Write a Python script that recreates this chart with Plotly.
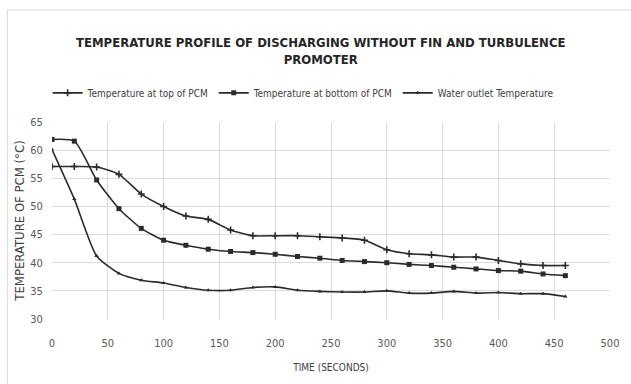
import plotly.graph_objects as go

time_s = [0, 20, 40, 60, 80, 100, 120, 140, 160, 180, 200, 220,
          240, 260, 280, 300, 320, 340, 360, 380, 400, 420, 440, 460]

temp_top = [57.1, 57.1, 57.0, 55.7, 52.2, 50.0, 48.3, 47.7, 45.8, 44.8, 44.8, 44.8,
            44.6, 44.4, 44.0, 42.3, 41.6, 41.4, 41.0, 41.0, 40.4, 39.8, 39.5, 39.5]

temp_bottom = [61.9, 61.6, 54.7, 49.6, 46.1, 44.0, 43.1, 42.4, 42.0, 41.8, 41.5, 41.1,
               40.8, 40.4, 40.2, 40.0, 39.7, 39.5, 39.2, 38.9, 38.6, 38.5, 38.0, 37.7]

temp_water = [60.1, 51.3, 41.2, 38.1, 36.9, 36.4, 35.6, 35.1, 35.1, 35.6, 35.7, 35.1,
              34.9, 34.8, 34.8, 35.0, 34.6, 34.6, 34.9, 34.6, 34.7, 34.5, 34.5, 34.0]

series_names = ["Temperature at top of PCM", "Temperature at bottom of PCM",
                "Water outlet Temperature"]

title_text = "TEMPERATURE PROFILE OF DISCHARGING WITHOUT FIN AND TURBULENCE<br>PROMOTER"
x_title = "TIME (SECONDS)"
y_title = "TEMPERATURE OF PCM (°C)"

FONT = "DejaVu Sans Condensed, Liberation Sans Narrow, Roboto, sans-serif"
LINE = "#2b2b2b"

fig = go.Figure()
fig.add_trace(go.Scatter(
    x=time_s, y=temp_top, name=series_names[0], mode="lines+markers",
    line=dict(color=LINE, width=1.6, shape="spline", smoothing=0.6),
    marker=dict(symbol="cross-thin", size=5, color=LINE, line=dict(color=LINE, width=1.6)),
))
fig.add_trace(go.Scatter(
    x=time_s, y=temp_bottom, name=series_names[1], mode="lines+markers",
    line=dict(color=LINE, width=1.6, shape="spline", smoothing=0.6),
    marker=dict(symbol="square", size=5, color=LINE),
))
fig.add_trace(go.Scatter(
    x=time_s, y=temp_water, name=series_names[2], mode="lines+markers",
    line=dict(color=LINE, width=1.6, shape="spline", smoothing=0.6),
    marker=dict(symbol="triangle-up", size=4, color=LINE),
))

fig.update_layout(
    width=631, height=384,
    margin=dict(l=52, r=21, t=122, b=65),
    paper_bgcolor="white", plot_bgcolor="white",
    font=dict(family=FONT, color="#595959", size=10),
    showlegend=True,
    legend=dict(orientation="h", x=0.45, xanchor="center", y=1.148, yanchor="middle",
                font=dict(family=FONT, size=10, color="#404040"),
                itemwidth=30, tracegroupgap=0, bgcolor="rgba(0,0,0,0)"),
    annotations=[dict(text="<b>" + title_text + "</b>", x=0.482, y=1.36, xref="paper", yref="paper",
                      xanchor="center", yanchor="middle", showarrow=False,
                      font=dict(family=FONT, size=13, color="#262626"))],
    shapes=[dict(type="rect", xref="paper", yref="paper", x0=-0.08, x1=1.05, y0=-0.4, y1=1.5685,
                 line=dict(color="#d9d9d9", width=1), fillcolor="rgba(0,0,0,0)", layer="below")],
)

fig.update_xaxes(range=[0, 500], dtick=50, tick0=0, showgrid=True, gridcolor="#dcdcdc", gridwidth=1,
                 zeroline=False, showline=False, ticks="outside", ticklen=14, tickcolor="rgba(0,0,0,0)",
                 tickfont=dict(family=FONT, size=11, color="#595959"),
                 title=dict(text=x_title, font=dict(family=FONT, size=10, color="#404040"), standoff=14))
fig.update_yaxes(range=[30, 65], dtick=5, tick0=30, showgrid=True, gridcolor="#dcdcdc", gridwidth=1,
                 zeroline=False, showline=False, ticks="outside", ticklen=6, tickcolor="rgba(0,0,0,0)",
                 tickfont=dict(family=FONT, size=11, color="#595959"),
                 title=dict(text=y_title, font=dict(family=FONT, size=13, color="#404040"),
                            standoff=2))

fig.write_html("out.html")
